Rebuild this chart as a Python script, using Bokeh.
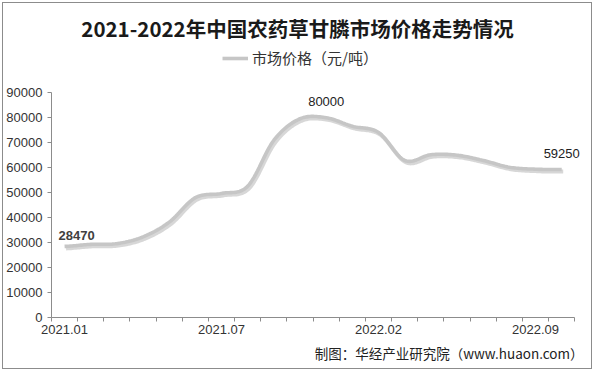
import numpy as np
from bokeh.plotting import figure
from bokeh.models import (FixedTicker, Label, Legend, LegendItem, Range1d, ColumnDataSource, Title)
from bokeh.embed import file_html
from bokeh.resources import INLINE

# ---- data ----
months = ["2021.01", "2021.02", "2021.03", "2021.04", "2021.05", "2021.06", "2021.07",
          "2021.08", "2021.09", "2021.10", "2021.11", "2022.01", "2022.02", "2022.03",
          "2022.04", "2022.05", "2022.06", "2022.07", "2022.09", "2022.10"]
prices = [28470, 29300, 29600, 32300, 38200, 48000, 49700, 52600, 71000, 79600,
          80000, 76600, 74100, 62900, 65200, 65000, 62900, 60200, 59400, 59250]
shown_labels = ["2021.01", "2021.07", "2022.02", "2022.09"]
labelled_values = [28470, 80000, 59250]
y_ticks = [0, 10000, 20000, 30000, 40000, 50000, 60000, 70000, 80000, 90000]
title_text = "2021-2022年中国农药草甘膦市场价格走势情况"
legend_text = "市场价格（元/吨）"
source_text = "制图：华经产业研究院（www.huaon.com）"

FONT = "Liberation Sans"
CJK = "Noto Sans CJK SC"

# ---- layout (pixels in the figure canvas) ----
W, H = 590, 367
FRAME_L = 48          # y-axis position
FRAME_R = 10          # right border (source note is right-aligned to the frame)
FRAME_B = 314         # x-axis position (from top)
AXIS_TOP = 89.3       # where 90000 sits
CAT_PX = 523.3 / len(prices)
Y_PER_PX = y_ticks[-1] / (FRAME_B - AXIS_TOP)

def px_x(px):
    return (px - FRAME_L) / CAT_PX

def px_y(py):
    return (FRAME_B - py) * Y_PER_PX

n = len(prices)
xs = np.arange(n) + 0.5
ys = np.array(prices, dtype=float)

# smooth (Catmull-Rom) rendering of the series
def smooth(x, y, steps=16):
    px = np.concatenate([[2 * x[0] - x[1]], x, [2 * x[-1] - x[-2]]])
    py = np.concatenate([[y[0]], y, [y[-1]]])
    ox, oy = [], []
    for i in range(1, len(px) - 2):
        t = np.linspace(0, 1, steps, endpoint=(i == len(px) - 3))
        for arr, out in ((px, ox), (py, oy)):
            p0, p1, p2, p3 = arr[i - 1], arr[i], arr[i + 1], arr[i + 2]
            out.extend(0.5 * ((2 * p1) + (-p0 + p2) * t + (2 * p0 - 5 * p1 + 4 * p2 - p3) * t ** 2
                              + (-p0 + 3 * p1 - 3 * p2 + p3) * t ** 3))
    return np.array(ox), np.array(oy)

sx, sy = smooth(xs, ys)
src = ColumnDataSource(dict(x=sx, y=sy))
shadow = ColumnDataSource(dict(x=sx + 1.5 / CAT_PX, y=sy - 2 * Y_PER_PX))

p = figure(width=W, height=H, output_backend="svg", toolbar_location=None,
           x_range=Range1d(0, px_x(W - FRAME_R)), y_range=Range1d(0, px_y(0)),
           min_border_left=FRAME_L, min_border_right=FRAME_R, min_border_top=0,
           min_border_bottom=H - FRAME_B)
p.styles = {"border": "1px solid #8c8c8c", "margin": "2px 0 0 2px"}
p.outline_line_color = None
p.xgrid.grid_line_color = None
p.ygrid.grid_line_color = None
p.background_fill_color = "white"
p.border_fill_color = "white"

p.line("x", "y", source=shadow, line_color="#9a9a9a", line_alpha=0.4, line_width=4)
main = p.line("x", "y", source=src, line_color="#c6c6c6", line_width=3.6)

# x axis: labels at category centres, ticks at boundaries
label_pos = [months.index(m) + 0.5 for m in shown_labels]
p.xaxis.bounds = (0, n)
p.xaxis.ticker = FixedTicker(ticks=label_pos, minor_ticks=list(range(n + 1)))
p.xaxis.major_label_overrides = {pos: m for pos, m in zip(label_pos, shown_labels)}
p.xaxis.major_tick_out = 0
p.xaxis.major_tick_in = 0
p.xaxis.minor_tick_out = 4
p.xaxis.minor_tick_in = 0
p.xaxis.minor_tick_line_color = "#8c8c8c"
p.xaxis.axis_line_color = "#8c8c8c"
p.xaxis.major_label_standoff = 3

p.yaxis.bounds = (0, y_ticks[-1])
p.yaxis.ticker = FixedTicker(ticks=y_ticks)
p.yaxis.minor_tick_line_color = None
p.yaxis.major_tick_out = 4
p.yaxis.major_tick_in = 0
p.yaxis.major_tick_line_color = "#8c8c8c"
p.yaxis.axis_line_color = "#8c8c8c"
p.yaxis.major_label_standoff = 5

for ax in (p.xaxis, p.yaxis):
    ax.major_label_text_font = FONT
    ax.major_label_text_font_size = "13px"
    ax.major_label_text_color = "#333333"

# data labels
for v in labelled_values:
    i = prices.index(v)
    first = (i == 0)
    p.add_layout(Label(x=i + 0.5, y=v, text=f"{v}", text_font=FONT, text_font_size="13px",
                       text_font_style="bold" if first else "normal",
                       text_color="#404040" if first else "#222222", text_align="center",
                       text_baseline="bottom", x_offset=12 if first else 0,
                       y_offset=6 if first else 12))

# title
p.add_layout(Label(x=px_x(294), y=px_y(24), text=title_text, text_font=CJK,
                   text_font_size="20.5px", text_font_style="bold", text_color="#1a1a1a",
                   text_align="center", text_baseline="middle"))

# legend
legend = Legend(items=[LegendItem(label=legend_text, renderers=[main])],
                location=(219 - FRAME_L, FRAME_B - 55 - 10), orientation="horizontal",
                label_text_font=CJK, label_text_font_size="15px", label_text_color="#333333",
                glyph_width=26, glyph_height=14, label_standoff=4, padding=0, margin=0,
                border_line_color=None, background_fill_alpha=0)
p.add_layout(legend, "center")

# source note
p.add_layout(Title(text=source_text, text_font=CJK, text_font_size="13.5px",
                   text_font_style="normal", text_color="#222222",
                   align="right", standoff=9), "below")

open("out.html", "w").write(file_html(p, INLINE))
